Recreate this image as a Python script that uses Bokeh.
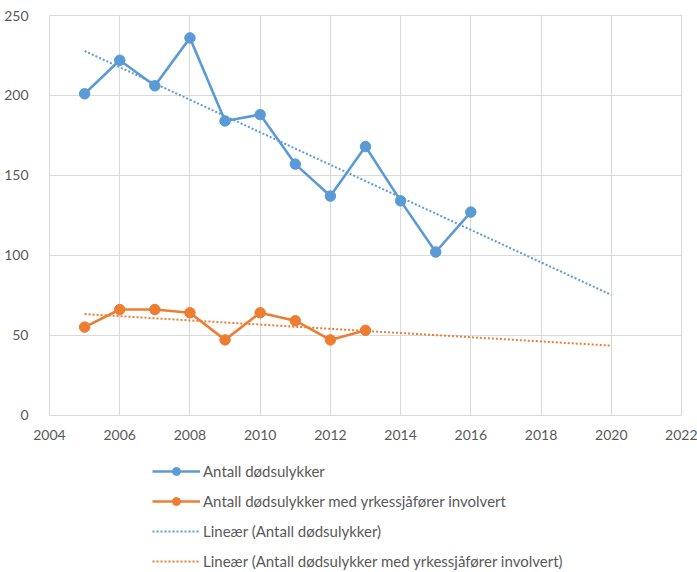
import numpy as np
from bokeh.plotting import figure
from bokeh.models import Legend, LegendItem, FixedTicker, Range1d, BoxAnnotation
from bokeh.embed import file_html
from bokeh.resources import INLINE

# Fatal road accidents per year, and those involving professional drivers
years_all = [2005, 2006, 2007, 2008, 2009, 2010, 2011, 2012, 2013, 2014, 2015, 2016]
fatal_all = [201, 222, 206, 236, 184, 188, 157, 137, 168, 134, 102, 127]

years_prof = [2005, 2006, 2007, 2008, 2009, 2010, 2011, 2012, 2013]
fatal_prof = [55, 66, 66, 64, 47, 64, 59, 47, 53]

trend_span = [2005, 2020]
x_ticks = [2004, 2006, 2008, 2010, 2012, 2014, 2016, 2018, 2020, 2022]
y_ticks = [0, 50, 100, 150, 200, 250]

labels = [
    "Antall dødsulykker",
    "Antall dødsulykker med yrkessjåfører involvert",
    "Lineær (Antall dødsulykker)",
    "Lineær (Antall dødsulykker med yrkessjåfører involvert)",
]

BLUE = "#5B9BD5"
ORANGE = "#ED7D31"
GRID = "#D9D9D9"
TEXT = "#595959"
FONT = "Lato"

X_MIN, X_MAX = 2004, 2022
Y_MIN, Y_MAX = 0, 250


def linear_trend(xs, ys, span):
    slope, intercept = np.polyfit(xs, ys, 1)
    return [slope * x + intercept for x in span]


# The frame fills the whole canvas: both axes are pinned to the edges of the
# value area, and the legend sits in the free space underneath it.
p = figure(
    frame_width=697, frame_height=572,
    output_backend="svg", toolbar_location=None,
    x_range=Range1d(2002.6044, 2022.4557), y_range=Range1d(-98.56, 259.39),
    min_border_left=0, min_border_right=0,
    min_border_top=0, min_border_bottom=0,
)
p.outline_line_color = None

for ax in (p.xaxis, p.yaxis):
    ax.major_tick_line_color = None
    ax.minor_tick_line_color = None
    ax.axis_line_color = GRID
    ax.major_label_text_color = TEXT
    ax.major_label_text_font = FONT
    ax.major_label_text_font_size = "14px"

p.xaxis.ticker = FixedTicker(ticks=x_ticks)
p.yaxis.ticker = FixedTicker(ticks=y_ticks)
p.xaxis.fixed_location = Y_MIN
p.xaxis.bounds = (X_MIN, X_MAX)
p.xaxis.major_label_standoff = 9
p.yaxis.fixed_location = X_MIN
p.yaxis.bounds = (Y_MIN, Y_MAX)
p.yaxis.major_label_standoff = 15

p.xgrid.ticker = FixedTicker(ticks=x_ticks)
p.ygrid.ticker = FixedTicker(ticks=y_ticks)
p.xgrid.grid_line_color = GRID
p.ygrid.grid_line_color = GRID

# white bands trim the grid to the value area
for band in (
    BoxAnnotation(top=Y_MIN),
    BoxAnnotation(bottom=Y_MAX + 0.4),
    BoxAnnotation(right=X_MIN),
    BoxAnnotation(left=X_MAX + 0.017),
):
    band.fill_color = "white"
    band.fill_alpha = 1
    band.line_alpha = 0
    band.level = "underlay"
    p.add_layout(band)

# Trend lines
t_all = p.line(trend_span, linear_trend(years_all, fatal_all, trend_span),
               line_color=BLUE, line_width=2, line_dash="2 2")
t_prof = p.line(trend_span, linear_trend(years_prof, fatal_prof, trend_span),
                line_color=ORANGE, line_width=2, line_dash="2 2")

# Data series
l_all = p.line(years_all, fatal_all, line_color=BLUE, line_width=2.6)
c_all = p.scatter(years_all, fatal_all, size=10.5, color=BLUE)
l_prof = p.line(years_prof, fatal_prof, line_color=ORANGE, line_width=2.6)
c_prof = p.scatter(years_prof, fatal_prof, size=10.5, color=ORANGE)

legend = Legend(
    items=[
        LegendItem(label=labels[0], renderers=[l_all, c_all]),
        LegendItem(label=labels[1], renderers=[l_prof, c_prof]),
        LegendItem(label=labels[2], renderers=[t_all]),
        LegendItem(label=labels[3], renderers=[t_prof]),
    ],
    location=(152, 1),
    orientation="vertical",
    glyph_width=48, glyph_height=20,
    label_height=20, label_standoff=3,
    spacing=10, padding=0, margin=0,
    label_text_font=FONT, label_text_font_size="15px",
    label_text_color=TEXT,
    border_line_alpha=0, background_fill_alpha=0,
)
p.add_layout(legend, "center")

open("out.html", "w").write(file_html(p, INLINE))
